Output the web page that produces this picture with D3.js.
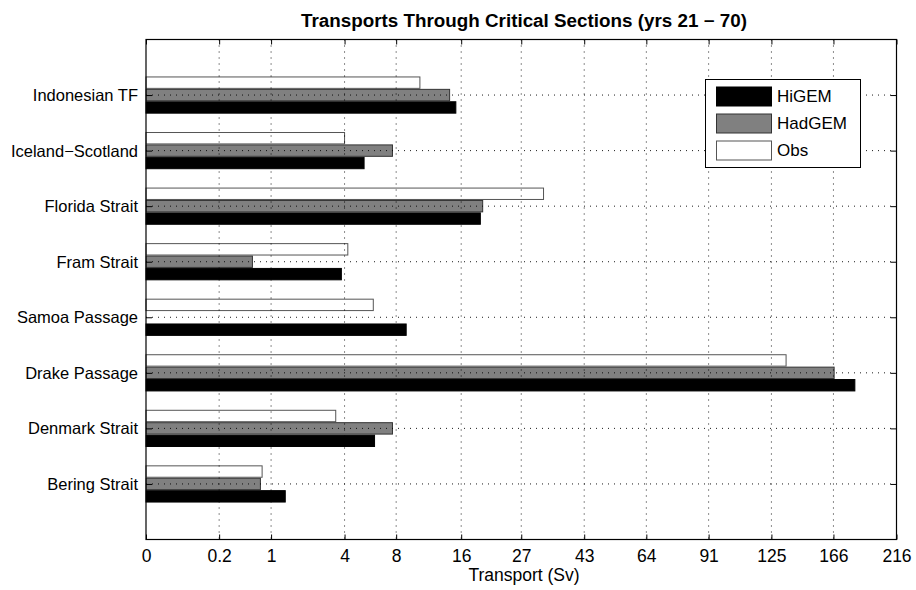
<!DOCTYPE html>
<html><head><meta charset="utf-8">
<script src="https://cdn.jsdelivr.net/npm/d3@7"></script>
<style>body{margin:0;background:#fff}svg{display:block}text{font-family:"Liberation Sans",Arial,sans-serif}</style>
</head><body><svg id="c" width="916" height="590"></svg>
<script>
const categories = ["Bering Strait","Denmark Strait","Drake Passage","Samoa Passage","Fram Strait","Florida Strait","Iceland\u2212Scotland","Indonesian TF"];
const seriesNames = ["HiGEM","HadGEM","Obs"];
const higem  = [1.38, 6.1, 182, 9.0, 3.81, 19.1, 5.3, 15.2];
const hadgem = [0.765, 7.65, 166.5, 0, 0.616, 19.5, 7.65, 14.3];
const obs    = [0.8, 3.49, 134, 6.0, 4.2, 32.1, 4.0, 10.5];
const xTicks = [0, 0.2, 1, 4, 8, 16, 27, 43, 64, 91, 125, 166, 216];
const xTickLabels = ["0","0.2","1","4","8","16","27","43","64","91","125","166","216"];
const fills = ["#000000","#808080","#ffffff"];
const strokes = ["#000000","#333333","#555555"];

const L=146, R=896.5, T=39.5, B=539.5;
const svg = d3.select("#c");
const x = d3.scalePow().exponent(1/3).domain([0,216]).range([L,R]);
const y = d3.scaleLinear().domain([0,9]).range([B,T]);
const series = [higem, hadgem, obs];
const offs = [12.4, 0, -12.4];
const bh = 11.4;

const g = svg.append("g");
series.forEach((vals,si)=>{
  g.selectAll(null).data(vals.map((v,i)=>({v,i}))).enter().filter(d=>d.v>0)
   .append("rect")
   .attr("x", x(0)).attr("width", d=>x(d.v)-x(0))
   .attr("y", d=>y(d.i+1)+offs[si]-bh/2).attr("height", bh)
   .attr("fill", fills[si]).attr("stroke", strokes[si]).attr("stroke-width",1);
});

// grid
const grid = svg.append("g").attr("stroke","#000").attr("stroke-width",0.9).attr("stroke-dasharray","1,5");
grid.selectAll(null).data(xTicks.slice(1,-1)).enter().append("line")
  .attr("x1",d=>x(d)).attr("x2",d=>x(d)).attr("y1",T).attr("y2",B);
grid.selectAll(null).data(categories).enter().append("line")
  .attr("x1",L).attr("x2",R).attr("y1",(d,i)=>y(i+1)).attr("y2",(d,i)=>y(i+1));

// axes
const xb = d3.axisBottom(x).tickValues(xTicks).tickFormat((d,i)=>xTickLabels[i]).tickSizeInner(-5).tickSizeOuter(0);
const xt = d3.axisTop(x).tickValues(xTicks).tickFormat("").tickSizeInner(-5).tickSizeOuter(0);
const yl = d3.axisLeft(y).tickValues(d3.range(1,9)).tickFormat(d=>categories[d-1]).tickSizeInner(-6).tickSizeOuter(0).tickPadding(8);
const yr = d3.axisRight(y).tickValues(d3.range(1,9)).tickFormat("").tickSizeInner(-6).tickSizeOuter(0);
function style(sel){sel.select(".domain").remove();sel.selectAll("line").attr("stroke","#000");sel.selectAll("text").attr("fill","#000");}
svg.append("g").attr("transform",`translate(0,${B})`).call(xb).call(style)
   .selectAll("text").attr("y",22).attr("dy",0).attr("font-size",17.5);
svg.append("g").attr("transform",`translate(0,${T})`).call(xt).call(style);
svg.append("g").attr("transform",`translate(${L},0)`).call(yl).call(style)
   .selectAll("text").attr("font-size",16.5).attr("dy","0.33em");
svg.append("g").attr("transform",`translate(${R},0)`).call(yr).call(style);
svg.append("rect").attr("x",L).attr("y",T).attr("width",R-L).attr("height",B-T).attr("fill","none").attr("stroke","#000").attr("stroke-width",1.2);

// labels
svg.append("text").attr("x",524).attr("y",27).attr("text-anchor","middle").attr("font-size",17.5).attr("font-weight","bold")
   .attr("textLength",446).attr("lengthAdjust","spacingAndGlyphs")
   .text("Transports Through Critical Sections (yrs 21 \u2212 70)");
svg.append("text").attr("x",524).attr("y",581).attr("text-anchor","middle").attr("font-size",17.5).text("Transport (Sv)");

// legend
const lg = svg.append("g");
lg.append("rect").attr("x",705.5).attr("y",79.5).attr("width",155).attr("height",88).attr("fill","#fff").attr("stroke","#000").attr("stroke-width",1);
seriesNames.forEach((n,i)=>{
  lg.append("rect").attr("x",716.5).attr("y",87+i*27).attr("width",55).attr("height",19).attr("fill",fills[i]).attr("stroke",strokes[i]);
  lg.append("text").attr("x",777).attr("y",96.5+i*27).attr("dy","0.35em").attr("font-size",17).text(n);
});
</script></body></html>
